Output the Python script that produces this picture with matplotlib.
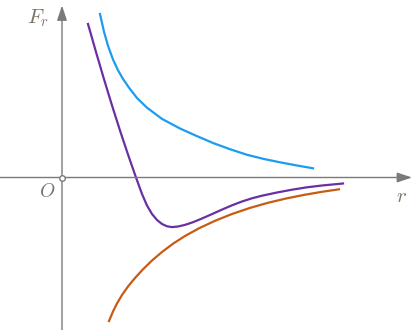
import numpy as np
import matplotlib.pyplot as plt

plt.rcParams['mathtext.fontset'] = 'cm'

# curves (r, F_r)
blue_r = [3.8, 4.2, 4.6, 5.1, 5.6, 6.1, 6.7, 7.5, 8.5, 10.0, 11.8, 13.4, 15.1, 16.8, 18.5, 20.2, 21.8, 23.5, 25.1]
blue_f = [16.35, 14.57, 13.17, 11.8, 10.72, 9.86, 8.98, 7.95, 6.98, 5.86, 4.9, 4.18, 3.45, 2.83, 2.27, 1.85, 1.52, 1.2, 0.92]

purple_r = [2.6, 3.4, 4.2, 5.0, 5.8, 6.6, 7.4, 8.0, 8.5, 9.0, 9.5, 10.0, 10.5, 11.0, 11.6, 12.3, 13.1, 14.0,
            15.0, 16.0, 17.0, 18.0, 19.0, 20.0, 21.5, 23.0, 24.5, 26.0, 28.1]
purple_f = [15.35, 12.55, 9.83, 7.21, 4.7, 2.3, 0.0, -1.65, -2.8, -3.65, -4.25, -4.65, -4.88, -4.96, -4.9, -4.74, -4.47, -4.1,
            -3.66, -3.21, -2.78, -2.4, -2.08, -1.82, -1.5, -1.22, -0.98, -0.8, -0.6]

orange_r = [4.7, 5.1, 5.5, 6.0, 6.6, 7.3, 8.1, 9.0, 10.0, 11.1, 12.3, 13.7, 15.3, 17.0, 18.8, 20.6, 22.4, 24.2, 26.0, 27.7]
orange_f = [-14.35, -13.4, -12.6, -11.75, -10.9, -10.05, -9.18, -8.3, -7.45, -6.62, -5.85, -5.08, -4.33, -3.65, -3.04,
            -2.53, -2.1, -1.74, -1.43, -1.18]

fig = plt.figure(figsize=(4.2, 3.3), dpi=100)
ax = fig.add_axes([0, 0, 1, 1])
ax.set_xlim(-6.2, 35.8)
ax.set_ylim(-15.25, 17.75)
ax.axis('off')

gray = '#7a7a7a'
# axes with arrows
ax.annotate('', xy=(35.0, 0), xytext=(-6.2, 0),
            arrowprops=dict(arrowstyle='-|>,head_length=0.9,head_width=0.3', color=gray, lw=1.0, shrinkA=0, shrinkB=0))
ax.annotate('', xy=(0, 17.2), xytext=(0, -15.25),
            arrowprops=dict(arrowstyle='-|>,head_length=0.9,head_width=0.3', color=gray, lw=1.0, shrinkA=0, shrinkB=0))
ax.plot([0], [0], 'o', ms=4, mfc='white', mec=gray, mew=1.0, zorder=5)

ax.plot(blue_r, blue_f, color='#1c9cf0', lw=1.6, solid_joinstyle='round')
ax.plot(purple_r, purple_f, color='#6a2fa3', lw=1.6, solid_joinstyle='round')
ax.plot(orange_r, orange_f, color='#c75b12', lw=1.6, solid_joinstyle='round')

tc = '#7d7468'
ax.text(-2.4, 15.9, '$F_r$', fontsize=15, color=tc, ha='center', va='center')
ax.text(-1.5, -1.4, '$O$', fontsize=14, color=tc, ha='center', va='center')
ax.text(34.0, -1.8, '$r$', fontsize=15, color=tc, ha='center', va='center')

fig.savefig('out.png', dpi=100)
